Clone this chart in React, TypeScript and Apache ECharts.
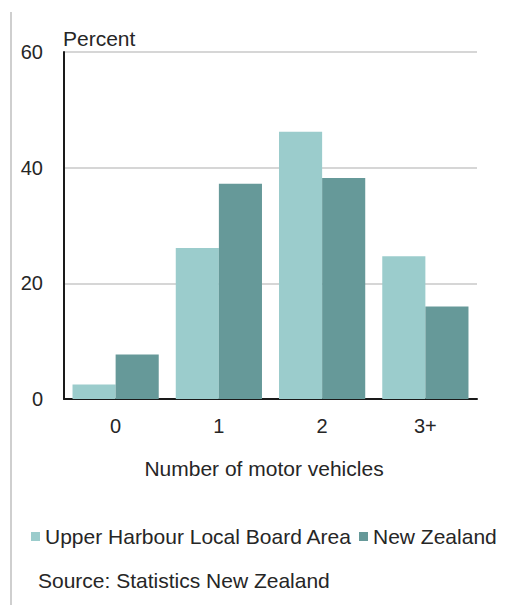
import React, { useEffect, useRef } from "react";
import * as echarts from "echarts";

const categories = ["0", "1", "2", "3+"];
const upperHarbour = [2.5, 26.1, 46.2, 24.7];
const newZealand = [7.7, 37.2, 38.2, 16.0];
const seriesNames = ["Upper Harbour Local Board Area", "New Zealand"];
const yTicks = { min: 0, max: 60, interval: 20 };
const FONT = "'Liberation Sans', Arial, sans-serif";
const TEXT = "#262626";

export default function App() {
  const ref = useRef<HTMLDivElement>(null);
  useEffect(() => {
    if (!ref.current) return;
    const chart = echarts.init(ref.current, undefined, { renderer: "svg" });
    chart.setOption({
      animation: false,
      backgroundColor: "#ffffff",
      textStyle: { fontFamily: FONT, color: TEXT },
      grid: { left: 64, right: 34, top: 52, bottom: 206, containLabel: false },
      legend: {
        data: seriesNames,
        left: 26,
        top: 521,
        icon: "rect",
        itemWidth: 9,
        itemHeight: 9,
        itemGap: 7,
        textStyle: { fontFamily: FONT, fontSize: 21, color: TEXT },
      },
      xAxis: {
        type: "category",
        data: categories,
        axisLine: { show: true, lineStyle: { color: "#1a1a1a", width: 2 } },
        axisTick: { show: false },
        axisLabel: { fontFamily: FONT, fontSize: 20, color: TEXT, margin: 17 },
      },
      yAxis: {
        type: "value",
        min: yTicks.min,
        max: yTicks.max,
        interval: yTicks.interval,
        axisLine: { show: true, lineStyle: { color: "#1a1a1a", width: 2 } },
        axisTick: { show: false },
        splitLine: { show: true, lineStyle: { color: "#d6d6d6", width: 2 } },
        axisLabel: { fontFamily: FONT, fontSize: 20, color: TEXT, margin: 21 },
      },
      series: [
        {
          name: seriesNames[0],
          type: "bar",
          data: upperHarbour,
          barGap: "0%",
          barCategoryGap: "16.5%",
          itemStyle: { color: "#9bcccc" },
        },
        {
          name: seriesNames[1],
          type: "bar",
          data: newZealand,
          barGap: "0%",
          barCategoryGap: "16.5%",
          itemStyle: { color: "#669999" },
        },
      ],
      graphic: [
        {
          type: "line",
          shape: { x1: 11, y1: 12, x2: 11, y2: 605 },
          style: { stroke: "#cfcfcf", lineWidth: 2 },
        },
        {
          type: "text",
          x: 63,
          y: 38,
          style: {
            text: "Percent",
            font: `21px ${FONT}`,
            fill: TEXT,
            textAlign: "left",
            textVerticalAlign: "middle",
          },
        },
        {
          type: "text",
          x: 264,
          y: 468,
          style: {
            text: "Number of motor vehicles",
            font: `21px ${FONT}`,
            fill: TEXT,
            textAlign: "center",
            textVerticalAlign: "middle",
          },
        },
        {
          type: "text",
          x: 38,
          y: 580,
          style: {
            text: "Source: Statistics New Zealand",
            font: `21px ${FONT}`,
            fill: TEXT,
            textAlign: "left",
            textVerticalAlign: "middle",
          },
        },
      ],
    });
    return () => chart.dispose();
  }, []);
  return (
    <div
      ref={ref}
      style={{ position: "fixed", left: 0, top: 0, width: 511, height: 605 }}
    />
  );
}
